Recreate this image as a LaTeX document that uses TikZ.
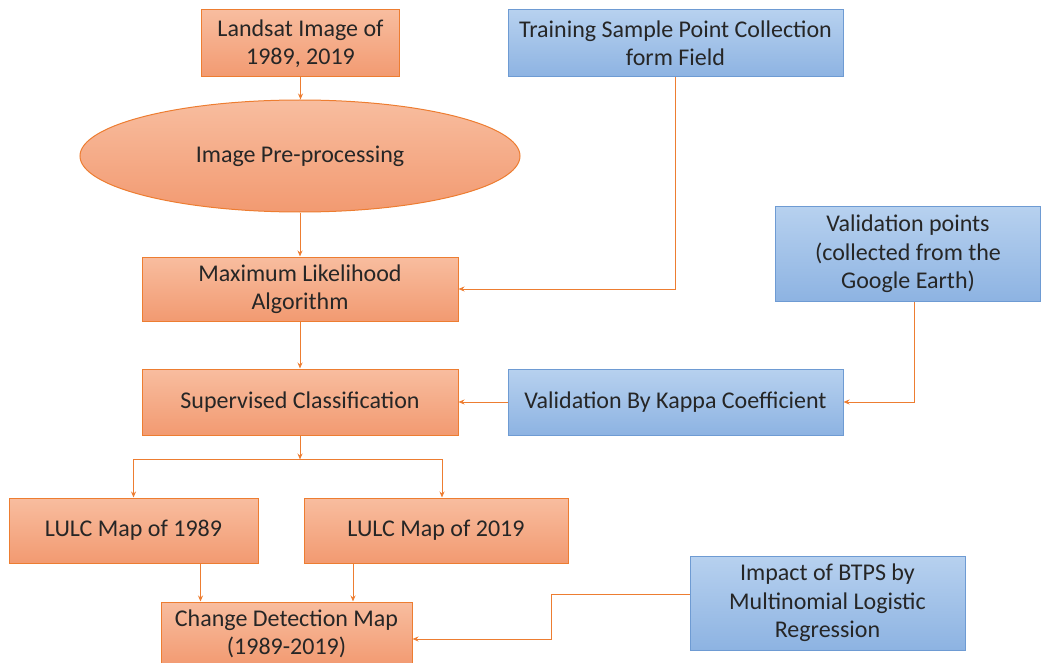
\documentclass[tikz,border=0pt]{standalone}
\usepackage{fontspec}
\setmainfont{Carlito}
\usetikzlibrary{arrows.meta,shapes.geometric}
\definecolor{orline}{HTML}{ED7D31}
\definecolor{ortop}{HTML}{F8BD9F}
\definecolor{orbot}{HTML}{F29A71}
\definecolor{blline}{HTML}{6E9BD3}
\definecolor{bltop}{HTML}{B7D1EF}
\definecolor{blbot}{HTML}{8DB3E2}
\definecolor{txt}{HTML}{262626}
\tikzset{
  orbox/.style={draw=orline, line width=1pt, top color=ortop, bottom color=orbot,
    text=txt, align=center, inner sep=0pt, font=\fontsize{24}{28.5}\selectfont},
  blbox/.style={draw=blline, line width=1pt, top color=bltop, bottom color=blbot,
    text=txt, align=center, inner sep=0pt, font=\fontsize{24}{28.5}\selectfont},
  flow/.style={draw=orline, line width=1pt, -{Stealth[length=6pt,width=5pt]}}
}
\begin{document}
\begin{tikzpicture}[x=1pt, y=-1pt]
\useasboundingbox (0,0) rectangle (1046,663);
\node[orbox, minimum width=198, minimum height=67] (landsat) at (300.5,43.5) {Landsat Image of\\1989, 2019};
\node[blbox, minimum width=335, minimum height=67] (training) at (675.5,43.5) {Training Sample Point Collection\\form Field};
\node[orbox, ellipse, minimum width=440, minimum height=112] (prep) at (300,156) {Image Pre-processing};
\node[orbox, minimum width=316, minimum height=64] (maxlik) at (300,289) {Maximum Likelihood\\Algorithm};
\node[blbox, minimum width=265, minimum height=95] (valpts) at (908,254) {Validation points\\(collected from the\\Google Earth)};
\node[orbox, minimum width=316, minimum height=66] (superv) at (300,402) {Supervised Classification};
\node[blbox, minimum width=335, minimum height=66] (kappa) at (675.5,402) {Validation By Kappa Coefficient};
\node[orbox, minimum width=249, minimum height=65] (lulcold) at (133.5,530.5) {LULC Map of 1989};
\node[orbox, minimum width=264, minimum height=65] (lulcnew) at (436,530.5) {LULC Map of 2019};
\node[orbox, minimum width=251, minimum height=64] (change) at (286.5,634) {Change Detection Map\\(1989-2019)};
\node[blbox, minimum width=275, minimum height=94] (impact) at (827.5,603) {Impact of BTPS by\\Multinomial Logistic\\Regression};
\draw[flow] (landsat.south) -- (landsat.south |- prep.north);
\draw[flow] (prep.south) -- (maxlik.north);
\draw[flow] (training.south) |- (maxlik.east);
\draw[flow] (maxlik.south) -- (superv.north);
\draw[flow] (kappa.west) -- (superv.east);
\draw[flow] ([xshift=6pt]valpts.south) |- (kappa.east);
\coordinate (split) at ([yshift=-24pt]superv.south);
\draw[flow] (superv.south) -- (split);
\draw[flow] (split) -| (lulcold.north);
\draw[flow] (split) -| ([xshift=6pt]lulcnew.north);
\draw[flow] ([xshift=67pt]lulcold.south) -- ([xshift=67pt]lulcold.south |- change.north);
\draw[flow] ([xshift=-83pt]lulcnew.south) -- ([xshift=-83pt]lulcnew.south |- change.north);
\draw[flow] ([yshift=9pt]impact.west) -- ++(-138,0) |- ([yshift=-5pt]change.east);
\end{tikzpicture}
\end{document}
